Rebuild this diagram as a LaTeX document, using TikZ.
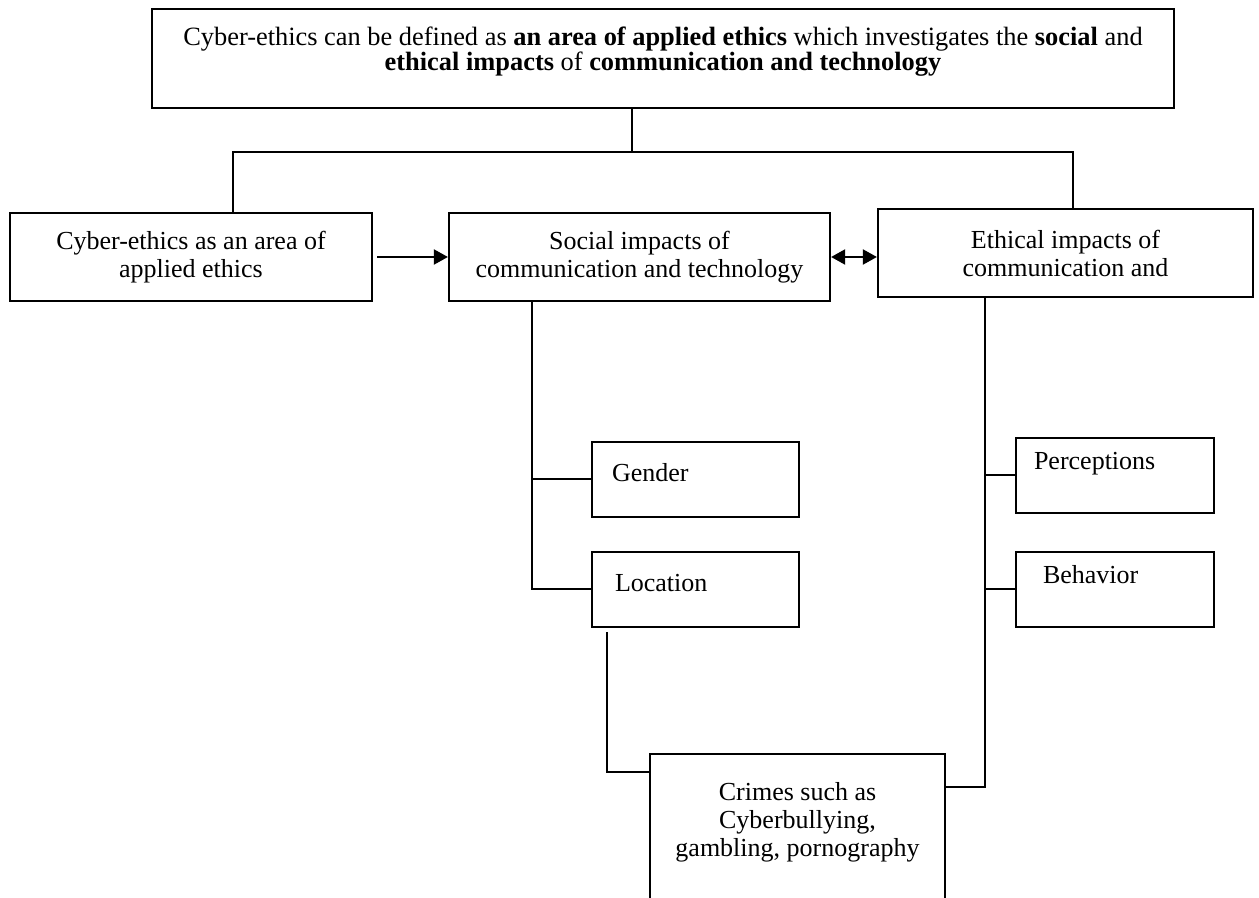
\documentclass[tikz,border=0pt]{standalone}
\usepackage{fontspec}
\setmainfont{Liberation Serif}
\usetikzlibrary{arrows.meta}

\begin{document}
\begin{tikzpicture}[x=0.5pt, y=-0.5pt, line width=1pt,
    >={Triangle[length=7pt, width=7.5pt]},
    every node/.style={font=\fontsize{13}{14}\selectfont},
    box/.style={draw, line width=1.1pt, align=center, inner sep=0pt},
    leafbox/.style={draw, line width=1.1pt, align=left, minimum height=37.5pt, text height=8.6pt}]
    \useasboundingbox (0,0) rectangle (1259,898);
    \clip (0,0) rectangle (1259,898);

    \node[box, minimum width=511pt, minimum height=49.5pt, font=\fontsize{13.2}{12.8}\selectfont, text depth=9.9pt] (def) at (663,58.5)
        {Cyber-ethics can be defined as \textbf{an area of applied ethics} which investigates the \textbf{social} and\\
         \textbf{ethical impacts} of \textbf{communication and technology}};

    \node[box, minimum width=181pt, minimum height=44pt] (applied) at (191,257) {Cyber-ethics as an area of\\ applied ethics};
    \node[box, minimum width=190.5pt, minimum height=44pt] (social) at (639.5,257) {Social impacts of\\ communication and technology};
    \node[box, minimum width=187.5pt, minimum height=44pt] (ethical) at (1065.5,253) {Ethical impacts of\\ communication and};

    \node[leafbox, text width=83.5pt, inner xsep=10pt, text depth=6.1pt] (gender) at (695.5,479.5) {Gender};
    \node[leafbox, text width=80.5pt, inner xsep=11.5pt, text depth=7.1pt] (location) at (695.5,589.5) {Location};
    \node[leafbox, text width=81pt, inner xsep=9pt, text depth=14.1pt] (percep) at (1115,475.5) {Perceptions};
    \node[leafbox, text width=72pt, inner xsep=13.5pt, text depth=15.1pt] (behav) at (1115,589.5) {Behavior};

    \node[box, anchor=north, minimum width=147.5pt, minimum height=74pt, text depth=8.4pt] (crimes) at (797.5,753)
        {Crimes such as\\ Cyberbullying,\\ gambling, pornography};

    \coordinate (top) at (632,152);
    \coordinate (lft) at (233,152);
    \coordinate (rgt) at (1073,152);
    \draw (top |- def.south) -- (top);
    \draw (lft |- applied.north) -- (lft) -- (rgt) -- (rgt |- ethical.north);

    \draw[->] ([xshift=2pt]applied.east) -- (social.west);
    \draw[<->] (social.east) -- (social.east -| ethical.west);

    \coordinate (strunk) at (532,0);
    \draw (strunk |- social.south) -- (strunk |- location.west) -- (location.west);
    \draw (strunk |- gender.west) -- (gender.west);

    \coordinate (lcrtop) at (607,632);
    \coordinate (lcrime) at (607,772);
    \draw (lcrtop) -- (lcrime) -- (lcrime -| crimes.west);

    \coordinate (etrunk) at (985,787);
    \draw (etrunk |- ethical.south) -- (etrunk) -- (etrunk -| crimes.east);
    \draw (etrunk |- percep.west) -- (percep.west);
    \draw (etrunk |- behav.west) -- (behav.west);
\end{tikzpicture}
\end{document}
